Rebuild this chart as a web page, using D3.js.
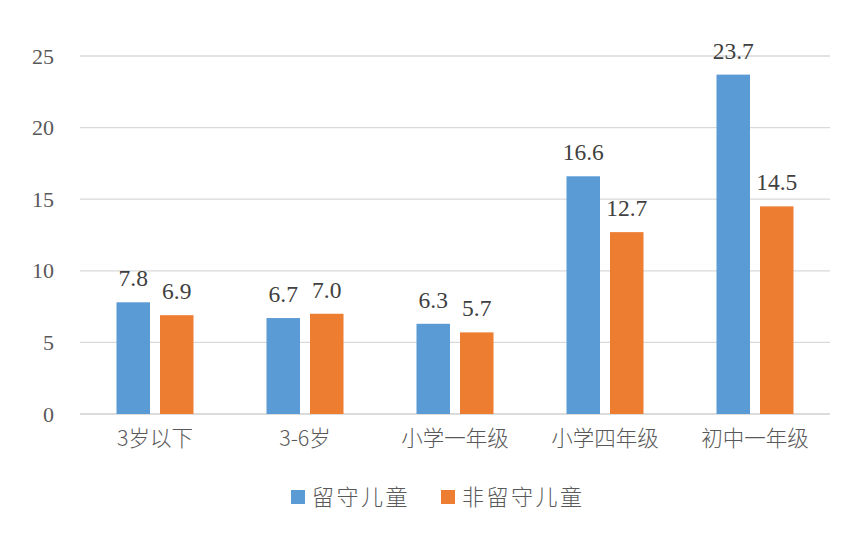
<!DOCTYPE html>
<html><head><meta charset="utf-8">
<script src="https://cdn.jsdelivr.net/npm/d3@7"></script>
<style>body{margin:0;background:#fff}</style>
</head><body>
<svg id="c" width="859" height="536"></svg>
<script>
const categories = ["3岁以下","3-6岁","小学一年级","小学四年级","初中一年级"];
const seriesNames = ["留守儿童","非留守儿童"];
const leftBehind = [7.8, 6.7, 6.3, 16.6, 23.7];
const nonLeftBehind = [6.9, 7.0, 5.7, 12.7, 14.5];
const yTicks = [0,5,10,15,20,25];
const colors = ["#5B9BD5","#ED7D31"];

const svg = d3.select("#c");
const x = d3.scaleBand().domain(categories).range([80,830]);
const y = d3.scaleLinear().domain([0,25]).range([414,56]);
const inner = d3.scaleBand().domain(seriesNames).range([0, 77]).paddingInner(0.23);
const serif = "'Liberation Serif','Times New Roman',serif";
const cjk = "'Noto Sans CJK SC','Microsoft YaHei',sans-serif";

// grid
svg.append("g").selectAll("line").data(yTicks).join("line")
  .attr("x1",80).attr("x2",830).attr("y1",d=>y(d)).attr("y2",d=>y(d))
  .attr("stroke",d=>d===0?"#d0d0d0":"#d9d9d9").attr("stroke-width",1.3);

// y axis labels
const yAxis = d3.axisLeft(y).tickValues(yTicks).tickSize(0).tickPadding(0);
const ya = svg.append("g").attr("transform","translate(54,0)").call(yAxis);
ya.select(".domain").remove();
ya.selectAll("text").attr("font-family",serif).attr("font-size",22).attr("fill","#595959");

// x labels
const xAxis = d3.axisBottom(x).tickSize(0).tickPadding(0);
const xa = svg.append("g").attr("transform","translate(0,430)").call(xAxis);
xa.select(".domain").remove();
xa.selectAll("text").attr("font-family",cjk).attr("font-size",21.5).attr("font-weight",300).attr("fill","#595959").attr("dy","0.75em");

const data = [leftBehind, nonLeftBehind];
data.forEach((vals,si)=>{
  const g = svg.append("g");
  const off = (x.bandwidth()-77)/2 + inner(seriesNames[si]);
  g.selectAll("rect").data(vals).join("rect")
    .attr("x",(d,i)=>x(categories[i])+off)
    .attr("width",inner.bandwidth())
    .attr("y",d=>y(d)).attr("height",d=>y(0)-y(d))
    .attr("fill",colors[si]);
  g.selectAll("text").data(vals).join("text")
    .attr("x",(d,i)=>x(categories[i])+off+inner.bandwidth()/2)
    .attr("y",d=>y(d)-16)
    .attr("text-anchor","middle")
    .attr("font-family",serif).attr("font-size",23.5).attr("fill","#404040")
    .text(d=>d.toFixed(1));
});

// legend
const leg = svg.append("g");
const legItems = [{n:seriesNames[0],x:291},{n:seriesNames[1],x:441}];
legItems.forEach((it,i)=>{
  leg.append("rect").attr("x",it.x).attr("y",490).attr("width",14).attr("height",14).attr("fill",colors[i]);
  leg.append("text").attr("x",it.x+21).attr("y",497).attr("dy","0.36em")
    .attr("font-family",cjk).attr("font-size",22).attr("font-weight",300).attr("letter-spacing",2.5).attr("fill","#595959").text(it.n);
});
</script>
</body></html>
